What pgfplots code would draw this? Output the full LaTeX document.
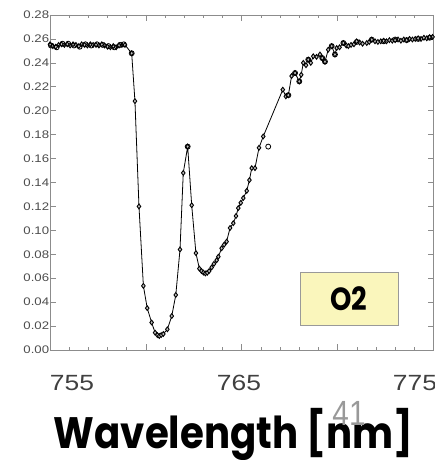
\documentclass[border=0pt]{standalone}
\usepackage{pgfplots}
\pgfplotsset{compat=1.18}
\usepackage{fontspec}
\setmainfont{Liberation Sans}
\newfontfamily\pop{Poppins}
\definecolor{boxyellow}{RGB}{250,246,188}
\begin{document}
\begin{tikzpicture}
\begin{axis}[at={(0pt,0pt)}, anchor=south west, scale only axis,
  width=383.5pt, height=335pt,
  xmin=755, xmax=775, ymin=0, ymax=0.28,
  xtick={755,760,765,770,775}, xticklabels={,,,,}, minor x tick num=4,
  ytick={0,0.02,0.04,0.06,0.08,0.10,0.12,0.14,0.16,0.18,0.20,0.22,0.24,0.26,0.28},
  scaled y ticks=false,
  axis line style={black!45},
  tick style={black!45, line width=0.6pt},
  major tick length=6pt, minor tick length=3pt, tick align=inside,
  yticklabel style={font=\fontsize{11}{11}\selectfont, text=black!70, xscale=1.2, inner sep=0.5pt,
    /pgf/number format/fixed, /pgf/number format/fixed zerofill, /pgf/number format/precision=2,
    /pgf/number format/assume math mode=true},
]
\addplot[black, line width=0.8pt, mark=diamond*, mark size=2.4pt, mark options={fill=black!25, line width=0.9pt}] table {
755.00 0.2555
755.15 0.2540
755.30 0.2535
755.45 0.2550
755.60 0.2555
755.75 0.2550
755.90 0.2555
756.05 0.2545
756.20 0.2555
756.35 0.2550
756.50 0.2540
756.65 0.2555
756.80 0.2550
756.95 0.2545
757.10 0.2555
757.25 0.2550
757.40 0.2550
757.55 0.2545
757.70 0.2555
757.85 0.2545
758.00 0.2535
758.15 0.2530
758.30 0.2540
758.45 0.2530
758.60 0.2545
758.75 0.2550
758.91 0.2550
759.26 0.2480
759.43 0.2080
759.64 0.1200
759.87 0.0536
760.07 0.0350
760.30 0.0230
760.48 0.0145
760.60 0.0125
760.70 0.0117
760.80 0.0125
760.91 0.0134
761.12 0.0173
761.35 0.0284
761.56 0.0460
761.78 0.0840
761.95 0.1480
762.18 0.1700
762.39 0.1210
762.61 0.0810
762.79 0.0680
762.90 0.0660
763.00 0.0647
763.10 0.0640
763.20 0.0645
763.30 0.0660
763.43 0.0690
763.55 0.0720
763.69 0.0750
763.78 0.0780
763.95 0.0850
764.08 0.0880
764.21 0.0906
764.39 0.1020
764.56 0.1060
764.70 0.1120
764.82 0.1186
764.95 0.1230
765.08 0.1270
765.26 0.1330
765.40 0.1420
765.52 0.1520
765.69 0.1520
765.90 0.1690
766.12 0.1785
767.14 0.2176
767.30 0.2120
767.43 0.2130
767.60 0.2290
767.78 0.2315
768.00 0.2245
768.10 0.2300
768.21 0.2400
768.35 0.2380
768.47 0.2427
768.60 0.2400
768.73 0.2455
768.90 0.2450
769.08 0.2470
769.20 0.2440
769.34 0.2410
769.51 0.2510
769.69 0.2540
769.86 0.2470
769.95 0.2524
770.10 0.2530
770.30 0.2566
770.45 0.2545
770.56 0.2540
770.70 0.2550
770.85 0.2555
770.99 0.2580
771.15 0.2570
771.30 0.2560
771.52 0.2566
771.65 0.2575
771.78 0.2594
771.95 0.2580
772.10 0.2575
772.25 0.2580
772.40 0.2585
772.55 0.2580
772.70 0.2590
772.85 0.2585
773.00 0.2590
773.15 0.2595
773.30 0.2585
773.45 0.2595
773.60 0.2590
773.75 0.2600
773.90 0.2595
774.05 0.2600
774.20 0.2605
774.35 0.2600
774.50 0.2610
774.65 0.2605
774.80 0.2615
774.95 0.2617
};
\addplot[only marks, black, mark=o, mark size=2.5pt, mark options={line width=0.8pt}] table {
755.05 0.2545
755.35 0.2530
755.65 0.2560
755.95 0.2560
756.25 0.2545
756.55 0.2535
756.85 0.2555
757.15 0.2545
757.45 0.2555
757.75 0.2550
758.05 0.2540
758.35 0.2530
758.65 0.2550
758.85 0.2555
759.26 0.2480
762.18 0.1700
766.38 0.1700
767.43 0.2130
767.78 0.2315
768.00 0.2245
768.47 0.2427
769.20 0.2440
769.34 0.2410
769.69 0.2540
769.86 0.2470
770.30 0.2566
771.00 0.2575
771.78 0.2594
772.40 0.2580
773.00 0.2595
773.60 0.2590
774.20 0.2600
774.80 0.2610
};
\end{axis}
\node[font=\fontsize{22}{22}\selectfont, text=black!75, xscale=1.2, anchor=base] at (22pt,-40pt) {755};
\node[font=\fontsize{22}{22}\selectfont, text=black!75, xscale=1.2, anchor=base] at (189pt,-40pt) {765};
\node[font=\fontsize{22}{22}\selectfont, text=black!75, xscale=1.2, anchor=base] at (365pt,-40pt) {775};
\node[font=\pop\bfseries\fontsize{44}{44}\selectfont, xscale=0.88, anchor=base] at (183.5pt,-98.3pt) {Wavelength [nm]};
\node[font=\fontsize{35}{35}\selectfont, text=black!40, xscale=0.85, anchor=base] at (299pt,-75pt) {41};
\node[draw=black!40, fill=boxyellow, minimum width=98pt, minimum height=53pt, inner sep=0pt] at (299pt,51.5pt) {};
\node[font=\pop\bfseries\fontsize{32}{32}\selectfont, xscale=0.85] at (299pt,51.5pt) {O2};
\pgfresetboundingbox
\useasboundingbox (-50pt,-110pt) rectangle (384pt,350pt);
\end{tikzpicture}
\end{document}
